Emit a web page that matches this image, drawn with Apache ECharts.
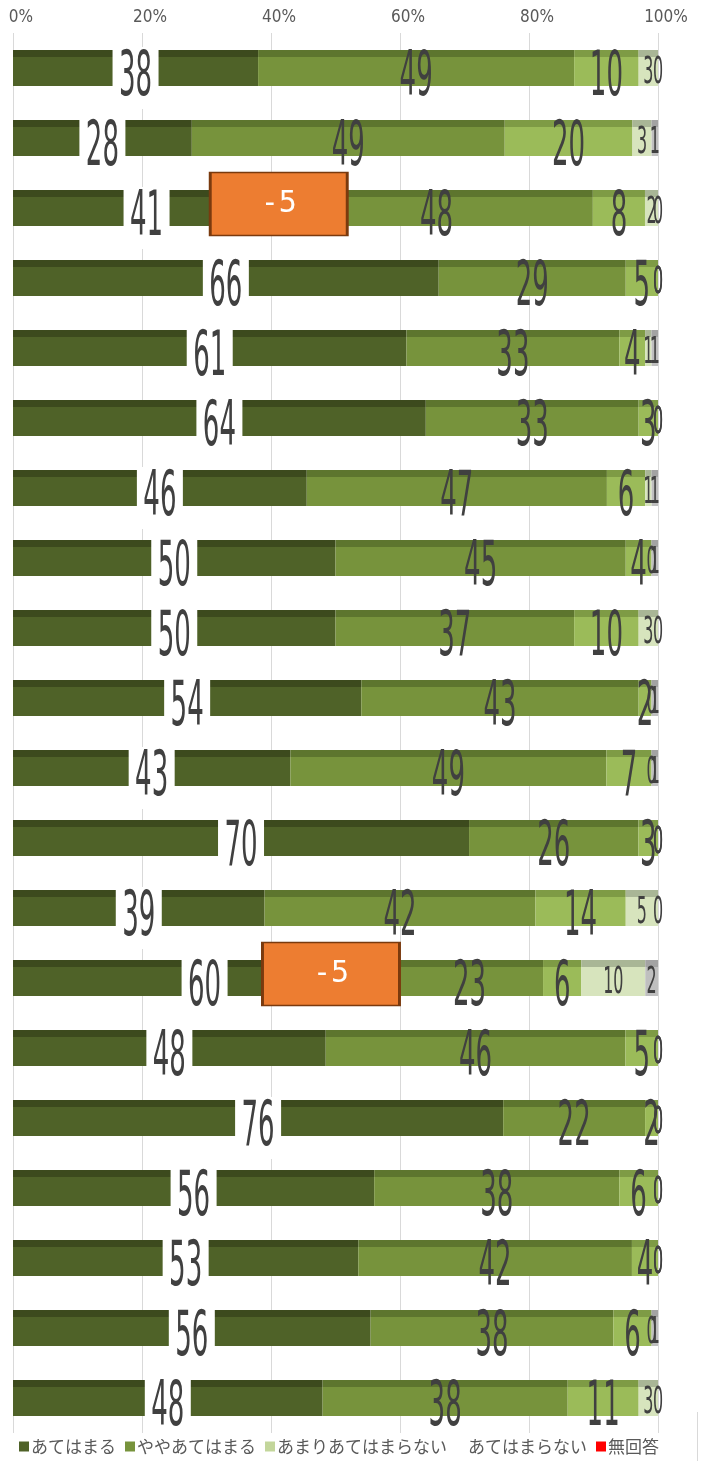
<!DOCTYPE html>
<html><head><meta charset="utf-8">
<script src="https://cdn.jsdelivr.net/npm/echarts@6/dist/echarts.min.js"></script>
<style>html,body{margin:0;padding:0;background:#fff}#c{width:704px;height:1461px}</style>
</head><body><div id="c"></div>
<script>
const rows = ['1','2','3','4','5','6','7','8','9','10','11','12','13','14','15','16','17','18','19','20'];
const seriesNames = ['あてはまる','ややあてはまる','あまりあてはまらない','あてはまらない','無回答'];
const agree    = [38,28,41,66,61,64,46,50,50,54,43,70,39,60,48,76,56,53,56,48];
const somewhat = [49,49,48,29,33,33,47,45,37,43,49,26,42,23,46,22,38,42,38,38];
const notMuch  = [10,20, 8, 5, 4, 3, 6, 4,10, 2, 7, 3,14, 6, 5, 2, 6, 4, 6,11];
const notAt    = [ 3, 3, 2, 0, 1, 0, 1, 0, 3, 0, 0, 0, 5,10, 0, 0, 0, 0, 0, 3];
const noAns    = [ 0, 1, 0, 0, 1, 0, 1, 1, 0, 1, 1, 0, 0, 2, 0, 0, 0, 0, 1, 0];
const xTicks = [0,20,40,60,80,100];
const annotations = [{row:'3', text:'-5'}, {row:'14', text:'-5'}];

const all = [agree, somewhat, notMuch, notAt, noAns];
const totals = rows.map((_, i) => all.reduce((s, a) => s + a[i], 0));
const shares = all.map(a => a.map((v, i) => v / totals[i] * 100));

const fronts = ['#4F6228','#77933C','#9BBB59','#D7E4BD','#BFBFBF'];
const tops   = ['#3C4A1D','#5D752E','#7E9B45','#A9B696','#A3A3A3'];
const legendColors = ['#4F6228','#77933C','#C3D69B','rgba(0,0,0,0)','#FF0000'];

function grad(top, front) {
  return {type:'linear', x:0, y:0, x2:0, y2:1, colorStops:[
    {offset:0, color:top},{offset:0.2, color:top},{offset:0.2, color:front},{offset:1, color:front}]};
}

const labelData = [];
rows.forEach((r, i) => {
  let cum = 0;
  for (let k = 0; k < all.length; k++) {
    const s = shares[k][i];
    labelData.push([cum + s / 2, i, all[k][i], k]);
    cum += s;
  }
});

const barSeries = all.map((a, k) => ({
  name: seriesNames[k], type: 'bar', stack: 'total', barWidth: 36,
  data: shares[k],
  itemStyle: {color: grad(tops[k], fronts[k])},
  silent: true
}));

const annoX = [41.2, 49.3];

const chart = echarts.init(document.getElementById('c'), null, {renderer:'canvas'});
chart.setOption({
  animation: false,
  grid: {left: 13, right: 46, top: 33, bottom: 28, containLabel: false},
  legend: {
    bottom: 1, left: 14, itemWidth: 10, itemHeight: 10, itemGap: 9, icon: 'rect',
    textStyle: {fontSize: 17, color: '#595959', fontFamily: 'Noto Sans CJK JP', padding:[0,0,0,-3]},
    data: seriesNames.map((n, k) => ({name: n, itemStyle: {color: legendColors[k]}}))
  },
  xAxis: {
    type: 'value', position: 'top', min: 0, max: 100, interval: 20,
    axisLabel: {formatter: v => xTicks.includes(v) ? v + '%' : '', color: '#595959', fontSize: 17,
      fontFamily: 'DejaVu Sans Condensed', margin: 7, padding: [0,0,0,16]},
    axisLine: {show: false}, axisTick: {show: false},
    splitLine: {lineStyle: {color: '#D9D9D9', width: 1}}
  },
  yAxis: {
    type: 'category', data: rows, inverse: true,
    axisLabel: {show: false}, axisLine: {show: false}, axisTick: {show: false}
  },
  series: barSeries.concat([{
    type: 'custom', coordinateSystem: 'cartesian2d', z: 10, clip: false,
    data: labelData, encode: {x: 0, y: 1},
    renderItem: function (params, api) {
      const mid = api.value(0), row = api.value(1), val = api.value(2), k = api.value(3);
      const p = api.coord([mid, row]);
      const big = k < 3;
      const txt = String(val);
      const children = [];
      const cy = p[1] + (big ? 11 : 5);
      if (k === 0) {
        const w = txt.length * 17 + 12;
        children.push({type:'rect', shape:{x: p[0] - w/2, y: cy - 32, width: w, height: 62}, style:{fill:'#FFFFFF'}});
      }
      children.push({
        type: 'text', x: p[0], y: cy, scaleX: 0.42,
        style: {text: txt, fontSize: big ? 62 : 38, fontFamily: 'DejaVu Sans', fontWeight: 'normal',
          fill: '#404040', align: 'center', verticalAlign: 'middle', textAlign:'center', textVerticalAlign:'middle'}
      });
      return {type: 'group', children: children};
    },
    markPoint: {
      symbol: 'rect', symbolSize: [137, 63], symbolOffset: [0, -4],
      itemStyle: {color: '#ED7D31', borderColor: '#7A3A0E', borderWidth: 2},
      label: {show: true, position: 'inside', color: '#FFFFFF', fontSize: 30, fontFamily: 'DejaVu Sans Mono',
        formatter: p => p.data.text},
      data: annotations.map((a, j) => ({coord: [annoX[j], a.row], text: a.text}))
    }
  }]),
  graphic: [{type:'line', shape:{x1:697.5, y1:1412, x2:697.5, y2:1461}, style:{stroke:'#D9D9D9', lineWidth:1}}]
});
</script></body></html>
